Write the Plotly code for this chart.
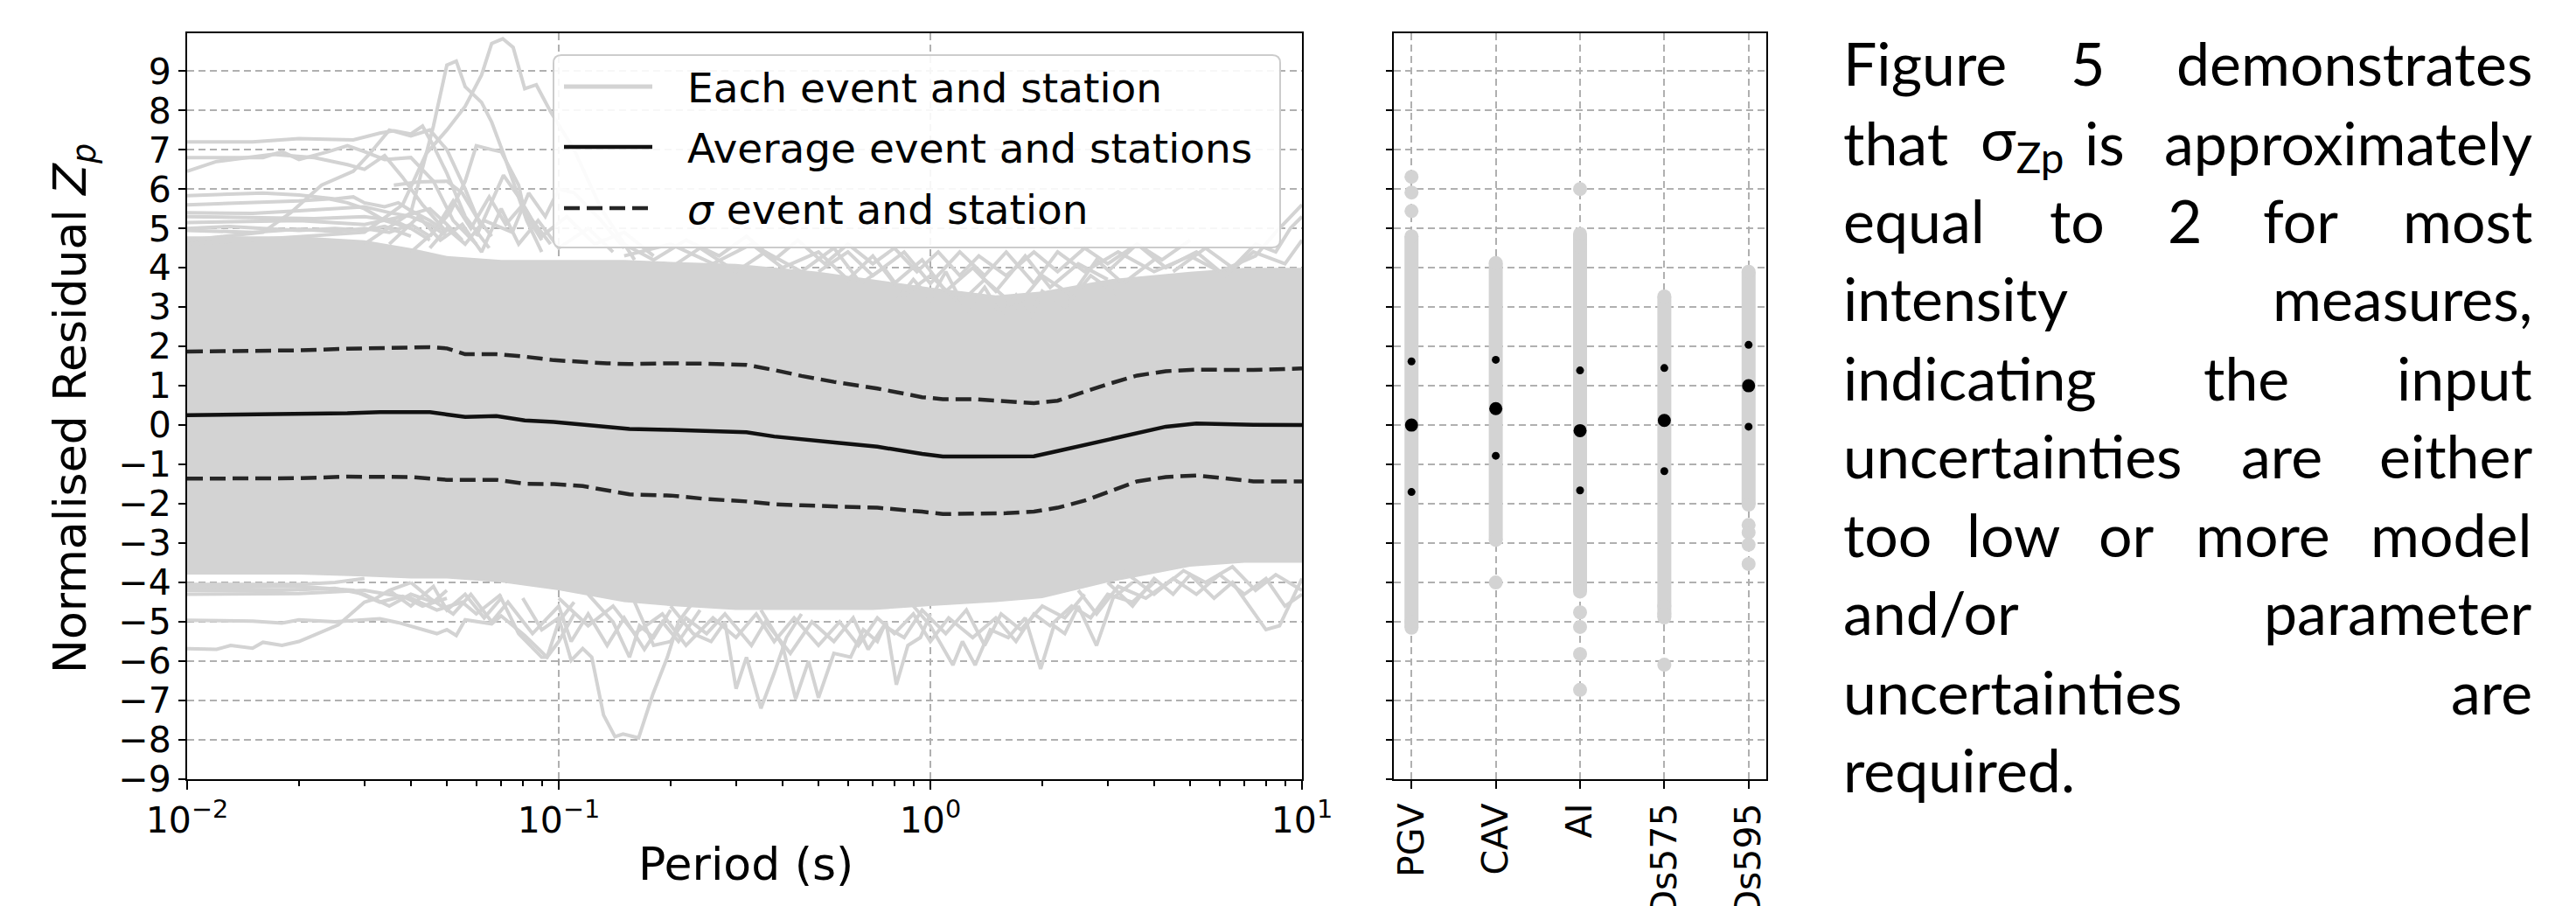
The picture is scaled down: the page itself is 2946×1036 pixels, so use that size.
import plotly.graph_objects as go

# ---------------- data ----------------
periods = [0.01, 0.015, 0.02, 0.027, 0.033, 0.04, 0.045, 0.05, 0.056, 0.068, 0.081, 0.097,
           0.116, 0.135, 0.155, 0.2, 0.25, 0.32, 0.38, 0.45, 0.55, 0.72, 0.95, 1.08, 1.3,
           1.6, 1.9, 2.2, 2.6, 3.0, 3.6, 4.3, 5.2, 6.2, 7.4, 10.0]
mean_z = [0.25, 0.27, 0.28, 0.30, 0.33, 0.33, 0.33, 0.27, 0.21, 0.23, 0.12, 0.08,
          0.01, -0.05, -0.10, -0.12, -0.15, -0.18, -0.29, -0.36, -0.43, -0.55, -0.73, -0.80, -0.80,
          -0.80, -0.79, -0.66, -0.50, -0.38, -0.20, -0.04, 0.04, 0.02, 0.01, 0.0]
sigma_upper = [1.87, 1.88, 1.90, 1.94, 1.95, 1.96, 1.98, 1.95, 1.80, 1.80, 1.74, 1.65,
               1.60, 1.57, 1.55, 1.57, 1.56, 1.53, 1.40, 1.25, 1.10, 0.93, 0.71, 0.66, 0.66,
               0.60, 0.56, 0.62, 0.85, 1.04, 1.26, 1.37, 1.41, 1.41, 1.40, 1.44]
sigma_lower = [-1.36, -1.36, -1.35, -1.31, -1.31, -1.32, -1.36, -1.39, -1.39, -1.39, -1.49, -1.50,
               -1.55, -1.65, -1.76, -1.79, -1.88, -1.94, -2.01, -2.04, -2.06, -2.10, -2.20, -2.26, -2.25,
               -2.24, -2.20, -2.10, -1.92, -1.70, -1.43, -1.32, -1.28, -1.35, -1.43, -1.43]

# dense band of the individual event/station curves (where they overlap solidly)
band_periods = [0.01, 0.02, 0.03, 0.04, 0.05, 0.07, 0.1, 0.15, 0.2, 0.3, 0.5, 0.7, 1.0, 1.5,
                2.0, 3.0, 5.0, 7.0, 10.0]
band_upper = [4.8, 4.8, 4.7, 4.5, 4.3, 4.2, 4.2, 4.2, 4.15, 4.1, 3.9, 3.7, 3.5, 3.3,
              3.4, 3.7, 3.9, 4.0, 4.0]
band_lower = [-3.8, -3.8, -3.85, -3.9, -3.9, -4.0, -4.2, -4.5, -4.6, -4.7, -4.7, -4.7, -4.6, -4.5,
              -4.4, -4.0, -3.6, -3.5, -3.5]

# individual curves that stand out of the band: (period, Zp) pairs
curve_peak = [(0.01, 4.6), (0.03, 4.9), (0.038, 5.6), (0.044, 6.9), (0.05, 7.5), (0.056, 8.1),
              (0.062, 8.9), (0.066, 9.7), (0.0707, 9.82), (0.0754, 9.6), (0.081, 8.55),
              (0.087, 8.65), (0.095, 7.97), (0.11, 7.0), (0.13, 5.5), (0.16, 4.2)]
curve_peak2 = [(0.03, 4.6), (0.04, 5.4), (0.046, 7.6), (0.05, 9.15), (0.053, 9.25), (0.056, 8.6),
               (0.062, 8.2), (0.066, 7.7), (0.071, 6.9), (0.078, 5.8), (0.082, 5.2), (0.09, 4.4)]
curve_h1 = [(0.01, 7.2), (0.015, 7.2), (0.02, 7.28), (0.028, 7.25), (0.033, 7.42), (0.036, 7.48),
            (0.04, 7.4), (0.043, 7.6), (0.046, 7.1), (0.05, 6.4), (0.056, 5.3), (0.065, 4.5)]
curve_h2 = [(0.01, 6.8), (0.016, 6.8), (0.018, 6.95), (0.02, 6.75), (0.024, 6.95), (0.027, 7.1),
            (0.03, 6.95), (0.034, 6.75), (0.04, 6.8), (0.046, 6.2), (0.052, 5.2), (0.06, 4.6)]
curve_h3 = [(0.01, 6.45), (0.012, 6.7), (0.017, 6.88), (0.022, 6.8), (0.027, 6.62), (0.03, 6.5),
            (0.034, 6.85), (0.038, 6.3), (0.043, 5.6), (0.05, 4.9)]
curve_r1 = [(0.01, 4.7), (0.016, 4.9), (0.019, 5.4), (0.023, 6.1), (0.028, 6.45), (0.031, 6.9),
            (0.035, 7.5), (0.04, 7.35), (0.045, 7.5), (0.05, 7.0), (0.056, 6.0), (0.062, 5.0)]
curve_h4 = [(0.01, 5.83), (0.013, 5.88), (0.016, 5.9), (0.02, 5.85), (0.025, 5.75), (0.028, 5.8),
            (0.03, 5.65), (0.034, 5.55), (0.037, 5.65), (0.04, 5.45), (0.045, 5.2), (0.05, 4.9)]
curve_h5 = [(0.01, 5.4), (0.015, 5.38), (0.02, 5.45), (0.025, 5.5), (0.03, 5.55), (0.035, 5.4),
            (0.04, 5.3), (0.045, 5.1), (0.05, 4.8)]
curve_h6 = [(0.01, 5.3), (0.016, 5.28), (0.022, 5.25), (0.03, 5.3), (0.036, 5.2), (0.04, 5.0),
            (0.045, 4.7)]
curve_h7 = [(0.01, 5.0), (0.013, 5.05), (0.016, 5.0), (0.02, 4.95), (0.025, 5.0), (0.03, 4.95),
            (0.034, 5.05), (0.04, 4.8)]
curve_h8 = [(0.01, 5.6), (0.015, 5.65), (0.02, 5.7), (0.024, 5.75), (0.027, 5.65), (0.03, 5.5),
            (0.034, 5.2), (0.04, 5.0)]
curve_h9 = [(0.01, 4.95), (0.015, 4.9), (0.02, 4.98), (0.025, 4.92), (0.03, 5.0), (0.035, 4.9),
            (0.04, 5.1), (0.045, 4.8)]
curve_h10 = [(0.01, 5.15), (0.02, 5.2), (0.03, 5.1), (0.038, 5.3), (0.045, 5.5), (0.05, 5.1),
             (0.055, 4.7)]
curve_m1 = [(0.036, 6.1), (0.042, 6.18), (0.05, 6.2), (0.055, 5.9), (0.06, 5.3), (0.066, 4.8)]
curve_m2 = [(0.045, 4.8), (0.051, 5.4), (0.056, 6.2), (0.06, 7.1), (0.066, 7.0), (0.07, 6.95),
            (0.078, 6.1), (0.081, 5.4), (0.09, 4.7)]
curve_m3 = [(0.06, 4.8), (0.068, 5.98), (0.071, 6.35), (0.078, 5.8), (0.085, 5.2), (0.095, 4.6)]
curve_u1 = [(0.035, 4.6), (0.042, 5.3), (0.048, 4.7), (0.055, 5.1), (0.062, 4.4), (0.07, 5.5),
            (0.078, 4.6), (0.088, 5.2), (0.1, 4.5), (0.12, 5.0), (0.14, 4.4)]
curve_u2 = [(0.04, 4.4), (0.046, 4.9), (0.052, 5.7), (0.058, 5.0), (0.065, 5.8), (0.072, 5.1),
            (0.08, 5.6), (0.09, 4.8), (0.105, 5.3), (0.125, 4.6), (0.15, 4.9), (0.18, 4.3)]
curve_u3 = [(0.045, 4.5), (0.05, 5.0), (0.056, 4.6), (0.063, 5.2), (0.075, 4.9), (0.083, 5.9),
            (0.092, 5.3), (0.1, 6.0), (0.11, 5.9), (0.13, 5.2), (0.15, 4.5)]
curve_u5 = [(0.15, 4.3), (0.2, 4.6), (0.26, 4.1), (0.33, 4.6), (0.4, 4.0), (0.5, 4.4), (0.6, 3.7),
            (0.7, 4.3), (0.8, 3.6), (0.95, 4.2), (1.1, 3.4), (1.3, 4.0), (1.5, 3.4), (1.8, 4.3),
            (2.1, 3.5), (2.5, 4.1), (3.0, 3.7)]
curve_u6 = [(0.2, 4.0), (0.24, 4.5), (0.3, 3.9), (0.36, 4.4), (0.45, 3.9), (0.55, 4.5), (0.65, 3.6),
            (0.75, 4.0), (0.85, 3.3), (1.0, 3.8), (1.2, 3.1), (1.4, 3.7), (1.7, 3.0), (2.0, 3.8),
            (2.4, 3.3), (2.8, 4.2), (3.3, 3.6), (4.0, 4.2)]
curve_u7 = [(0.5, 3.9), (0.6, 4.4), (0.7, 3.8), (0.85, 4.4), (1.0, 3.6), (1.2, 4.4), (1.4, 3.8),
            (1.6, 4.4), (1.9, 3.6), (2.2, 4.4), (2.6, 3.9), (3.2, 4.4), (4.0, 3.9), (5.0, 4.3),
            (6.0, 3.9), (7.5, 4.3), (8.5, 4.9), (10.0, 5.6)]
curve_u8 = [(4.5, 3.9), (5.5, 4.5), (6.5, 4.0), (7.5, 4.6), (8.5, 4.4), (9.3, 5.0), (10.0, 5.3)]
curve_u9 = [(3.0, 3.9), (3.6, 4.6), (4.3, 4.0), (5.2, 4.4), (6.2, 3.8), (7.4, 4.4), (9.0, 4.1),
            (10.0, 4.7)]
curve_u10 = [(0.8, 3.1), (0.9, 3.7), (1.0, 3.2), (1.1, 3.9), (1.25, 2.9), (1.4, 3.5), (1.55, 2.8),
             (1.7, 3.3), (1.85, 2.7), (2.0, 3.4), (2.3, 3.0), (2.7, 3.8), (3.2, 3.3)]
curve_u11 = [(0.15, 4.6), (0.18, 4.2), (0.22, 4.7), (0.27, 4.3), (0.32, 4.8), (0.38, 4.2),
             (0.44, 4.7), (0.52, 4.1), (0.6, 4.6), (0.7, 4.1), (0.8, 4.5), (0.92, 3.9), (1.05, 4.4),
             (1.2, 3.8), (1.35, 4.3), (1.6, 3.8), (1.9, 4.4), (2.2, 3.9), (2.6, 4.5), (3.0, 4.1),
             (3.6, 4.6), (4.2, 4.2), (5.0, 4.7)]
curve_l1 = [(0.01, -4.96), (0.015, -4.98), (0.018, -5.03), (0.02, -4.95), (0.025, -5.0),
            (0.033, -4.92), (0.037, -5.02), (0.047, -5.3), (0.05, -5.2), (0.053, -5.35),
            (0.056, -4.95), (0.066, -5.05), (0.07, -4.85), (0.081, -5.35), (0.093, -5.9),
            (0.1, -5.5), (0.11, -4.8)]
curve_l2 = [(0.01, -5.68), (0.012, -5.7), (0.0131, -5.6), (0.015, -5.67), (0.016, -5.52),
            (0.018, -5.6), (0.02, -5.5), (0.0255, -5.08), (0.03, -4.5), (0.032, -4.42),
            (0.035, -4.2), (0.04, -4.0)]
curve_l3 = [(0.08, -4.4), (0.09, -5.2), (0.1, -4.9), (0.108, -5.98), (0.116, -5.68),
            (0.1227, -5.9), (0.132, -7.37), (0.1417, -7.92), (0.149, -7.85), (0.155, -7.9),
            (0.164, -7.95), (0.179, -6.85), (0.196, -5.9), (0.21, -5.0), (0.23, -4.5)]
curve_l5 = [(0.01, -4.05), (0.02, -4.05), (0.025, -4.0), (0.03, -3.9)]
curve_l6 = [(0.01, -4.2), (0.018, -4.2), (0.025, -4.15), (0.03, -4.3), (0.035, -4.6), (0.04, -4.3),
            (0.046, -4.5), (0.05, -4.2)]
curve_l7 = [(0.01, -4.12), (0.02, -4.1), (0.028, -4.2), (0.033, -4.5), (0.038, -4.35),
            (0.043, -4.6), (0.05, -4.4)]
curve_l8 = [(0.01, -4.3), (0.02, -4.28), (0.03, -4.2), (0.04, -4.4), (0.047, -4.7), (0.055, -4.5),
            (0.06, -4.8), (0.07, -4.3)]
curve_d1 = [(0.035, -4.2), (0.04, -4.6), (0.046, -4.1), (0.05, -4.7), (0.056, -4.3), (0.063, -4.9),
            (0.07, -4.4), (0.078, -5.3), (0.09, -5.9), (0.093, -5.9), (0.1, -5.0), (0.11, -4.5)]
curve_d2 = [(0.04, -4.0), (0.045, -4.4), (0.052, -4.8), (0.058, -4.3), (0.066, -5.0), (0.073, -4.5),
            (0.085, -5.3), (0.1, -4.6), (0.108, -5.5), (0.12, -4.8), (0.135, -5.6), (0.15, -4.9),
            (0.17, -5.7), (0.19, -5.0), (0.21, -5.5), (0.24, -4.7)]
curve_d3 = [(0.2, -4.6), (0.23, -5.3), (0.257, -5.5), (0.28, -5.0), (0.3, -6.7), (0.32, -5.9),
            (0.35, -7.2), (0.38, -6.3), (0.41, -5.4), (0.45, -4.8)]
curve_d4 = [(0.35, -4.7), (0.4, -5.6), (0.434, -6.96), (0.47, -6.0), (0.5, -6.93), (0.55, -5.8),
            (0.61, -5.9), (0.66, -5.2), (0.72, -5.5), (0.76, -5.0), (0.81, -6.6), (0.87, -5.6),
            (0.94, -5.4), (1.0, -4.8)]
curve_d5 = [(0.9, -4.6), (1.0, -5.1), (1.15, -6.1), (1.22, -5.5), (1.32, -6.1), (1.45, -5.2),
            (1.62, -5.4), (1.8, -4.9), (1.98, -6.2), (2.15, -5.1), (2.3, -5.3), (2.5, -4.6),
            (2.8, -5.6), (3.1, -4.4), (3.5, -4.0)]
curve_d6 = [(0.16, -4.5), (0.18, -5.6), (0.2, -5.5), (0.22, -4.9), (0.25, -5.3), (0.28, -4.8),
            (0.33, -5.6), (0.36, -5.0), (0.42, -5.8), (0.48, -5.0), (0.55, -5.5), (0.62, -4.9),
            (0.68, -5.7), (0.75, -5.1), (0.85, -5.4), (0.95, -4.7), (1.1, -5.3), (1.25, -4.7),
            (1.4, -5.6), (1.55, -4.8), (1.75, -5.2), (2.0, -4.6), (2.3, -4.9), (2.6, -4.3)]
curve_d7 = [(3.0, -4.0), (3.5, -4.6), (4.0, -3.9), (4.5, -4.3), (5.0, -3.8), (5.8, -4.4),
            (6.5, -4.0), (7.2, -4.6), (8.0, -5.2), (8.7, -5.1), (9.3, -4.5), (10.0, -3.9)]
curve_d8 = [(3.3, -3.7), (4.0, -4.3), (4.8, -3.7), (5.5, -4.0), (6.5, -3.6), (7.5, -4.2),
            (8.5, -3.8), (10.0, -4.2)]
curve_d9 = [(0.12, -4.3), (0.14, -5.0), (0.155, -5.9), (0.165, -5.1), (0.18, -5.4), (0.2, -4.7)]
curve_d10 = [(0.1, -4.4), (0.12, -5.1), (0.14, -4.6), (0.16, -5.3), (0.19, -4.8), (0.22, -5.6),
             (0.26, -4.9), (0.3, -5.4), (0.34, -4.8), (0.38, -5.5), (0.43, -4.9), (0.5, -5.6),
             (0.57, -5.0), (0.64, -5.6), (0.72, -4.9), (0.8, -5.3), (0.9, -4.8), (1.0, -5.5),
             (1.12, -4.9), (1.3, -5.4), (1.5, -4.9), (1.7, -5.5), (1.9, -4.8), (2.1, -5.1),
             (2.4, -4.6), (2.7, -4.9), (3.0, -4.3), (3.5, -4.5), (4.0, -4.0)]
curve_d11 = [(2.5, -4.2), (2.8, -4.8), (3.2, -4.1), (3.8, -4.4), (4.5, -3.9), (5.2, -4.3),
             (6.0, -3.8), (7.0, -4.3), (8.0, -3.9), (9.0, -4.6), (10.0, -4.3)]

# intensity measures (right panel)
im_names = ["PGV", "CAV", "AI", "Ds575", "Ds595"]
im_mean = [0.0, 0.42, -0.14, 0.12, 1.0]
im_sigma_upper = [1.62, 1.66, 1.39, 1.45, 2.04]
im_sigma_lower = [-1.70, -0.78, -1.66, -1.17, -0.04]
im_dense_high = [4.8, 4.12, 4.86, 3.27, 3.9]
im_dense_low = [-5.15, -2.92, -4.23, -4.89, -2.02]
im_outliers_pgv = [6.31, 5.91, 5.44, -5.0]
im_outliers_cav = [-4.0]
im_outliers_ai = [6.0, 4.55, -4.76, -5.13, -5.82, -6.73]
im_outliers_ds575 = [-4.6, -4.8, -6.09]
im_outliers_ds595 = [-2.54, -2.73, -3.04, -3.53]

y_ticks = list(range(-9, 10))
x_major = [0.01, 0.1, 1, 10]
x_major_text = ["10<sup>\u22122</sup>", "10<sup>\u22121</sup>", "10<sup>0</sup>", "10<sup>1</sup>"]
x_minor = [0.02, 0.03, 0.04, 0.05, 0.06, 0.07, 0.08, 0.09,
           0.2, 0.3, 0.4, 0.5, 0.6, 0.7, 0.8, 0.9,
           2, 3, 4, 5, 6, 7, 8, 9]

legend_labels = ["Each event and station", "Average event and stations", "<i>\u03c3</i> event and station"]

paragraph = [
    [("Figure", "left", 2106), ("5", "center", 2387), ("demonstrates", "right", 2898)],
    [("that", "left", 2106), ("\u03c3<sub>Zp</sub>", "left", 2263), ("is", "center", 2407),
     ("approximately", "right", 2898)],
    [("equal", "left", 2106), ("to", "center", 2375), ("2", "center", 2498), ("for", "center", 2631),
     ("most", "right", 2898)],
    [("intensity", "left", 2106), ("measures,", "right", 2898)],
    [("indicating", "left", 2106), ("the", "center", 2569), ("input", "right", 2898)],
    [("uncertainties", "left", 2106), ("are", "center", 2609), ("either", "right", 2898)],
    [("too", "left", 2106), ("low", "center", 2303), ("or", "center", 2432), ("more", "center", 2588),
     ("model", "right", 2898)],
    [("and/or", "left", 2106), ("parameter", "right", 2898)],
    [("uncertainties", "left", 2106), ("are", "right", 2898)],
    [("required.", "left", 2106)],
]
paragraph_baselines = [93, 183, 272, 362, 452, 541, 631, 720, 811, 900]

# ---------------- figure ----------------
W, H = 2946, 1036
FONT = "DejaVu Sans"
GREY = "#d3d3d3"
GRID = "#b0b0b0"


def px(x):
    return x / W


def py(y):
    return 1 - y / H


individual_curves = [curve_l5, curve_l6, curve_l7, curve_l8, curve_d1, curve_d2, curve_d3, curve_d4,
                     curve_d5, curve_d6, curve_d7, curve_d8, curve_d9, curve_d10, curve_d11,
                     curve_l1, curve_l2, curve_l3,
                     curve_u1, curve_u2, curve_u3, curve_u5, curve_u6, curve_u7, curve_u8, curve_u9,
                     curve_u10, curve_u11, curve_h4, curve_h5, curve_h6, curve_h7, curve_h8, curve_h9,
                     curve_h10, curve_m1, curve_m2, curve_m3, curve_h1, curve_h2, curve_h3, curve_r1,
                     curve_peak2, curve_peak]

fig = go.Figure()

fig.add_trace(go.Scatter(
    x=band_periods + band_periods[::-1], y=band_upper + band_lower[::-1],
    fill="toself", fillcolor=GREY, mode="lines", line=dict(width=0, color=GREY),
    showlegend=False, hoverinfo="skip", xaxis="x", yaxis="y"))

for c in individual_curves:
    fig.add_trace(go.Scatter(
        x=[p[0] for p in c], y=[p[1] for p in c], mode="lines",
        line=dict(color=GREY, width=4), showlegend=False, hoverinfo="skip",
        xaxis="x", yaxis="y"))

for s in (sigma_upper, sigma_lower):
    fig.add_trace(go.Scatter(
        x=periods, y=s, mode="lines", line=dict(color="#262626", width=4.5, dash="18px,8px"),
        showlegend=False, xaxis="x", yaxis="y"))

fig.add_trace(go.Scatter(
    x=periods, y=mean_z, mode="lines", line=dict(color="#111111", width=4.5),
    showlegend=False, xaxis="x", yaxis="y"))

# right panel
im_x = list(range(len(im_names)))
bar_x, bar_y = [], []
for i in im_x:
    bar_x += [i, i, None]
    bar_y += [im_dense_low[i], im_dense_high[i], None]
fig.add_trace(go.Scatter(x=bar_x, y=bar_y, mode="lines", line=dict(color=GREY, width=16),
                         showlegend=False, xaxis="x2", yaxis="y2"))
outlier_sets = [im_outliers_pgv, im_outliers_cav, im_outliers_ai, im_outliers_ds575, im_outliers_ds595]
pt_x, pt_y = [], []
for i in im_x:
    vals = [im_dense_low[i], im_dense_high[i]] + outlier_sets[i]
    pt_x += [i] * len(vals)
    pt_y += vals
fig.add_trace(go.Scatter(x=pt_x, y=pt_y, mode="markers",
                         marker=dict(color=GREY, size=16, line=dict(width=0)),
                         showlegend=False, xaxis="x2", yaxis="y2"))
fig.add_trace(go.Scatter(x=im_x + im_x, y=im_sigma_upper + im_sigma_lower, mode="markers",
                         marker=dict(color="black", size=9, line=dict(width=0)),
                         showlegend=False, xaxis="x2", yaxis="y2"))
fig.add_trace(go.Scatter(x=im_x, y=im_mean, mode="markers",
                         marker=dict(color="black", size=15, line=dict(width=0)),
                         showlegend=False, xaxis="x2", yaxis="y2"))

y_dom = [py(891), py(38)]
axis_common = dict(showline=True, mirror=True, linecolor="black", linewidth=2,
                   ticks="outside", tickcolor="black", tickwidth=2, automargin=False,
                   tickfont=dict(family=FONT, size=41, color="black"),
                   showgrid=True, gridcolor=GRID, gridwidth=1.5, griddash="8px,5px",
                   zeroline=False)

fig.update_layout(
    width=W, height=H, margin=dict(l=0, r=0, t=0, b=0, autoexpand=False),
    paper_bgcolor="white", plot_bgcolor="white", showlegend=False,
    font=dict(family=FONT, color="black"),
    xaxis=dict(type="log", range=[-2, 1], domain=[px(214), px(1489)], anchor="y",
               tickmode="array", tickvals=x_major, ticktext=x_major_text, ticklen=10,
               minor=dict(tickmode="array", tickvals=x_minor, ticks="outside", ticklen=6,
                          tickwidth=1.5, tickcolor="black", showgrid=False),
               **axis_common),
    yaxis=dict(range=[-9, 9.96], domain=y_dom, anchor="x", tickmode="array",
               tickvals=y_ticks, ticklen=8, **axis_common),
    xaxis2=dict(range=[-0.21, 4.21], domain=[px(1594), px(2020)], anchor="y2",
                tickmode="array", tickvals=im_x, ticktext=im_names, tickangle=-90, ticklen=9,
                **axis_common),
    yaxis2=dict(range=[-9, 9.96], domain=y_dom, anchor="x2", tickmode="array",
                tickvals=y_ticks, ticklen=7, showticklabels=False, **axis_common),
)

annotations = [
    dict(text="Normalised Residual <i>Z</i><sub><i>p</i></sub>", textangle=-90,
         x=px(84), y=py(467), xref="paper", yref="paper", xanchor="center", yanchor="middle",
         showarrow=False, font=dict(family=FONT, size=52, color="black")),
    dict(text="Period (s)", x=px(853), y=py(988), xref="paper", yref="paper",
         xanchor="center", yanchor="middle", showarrow=False,
         font=dict(family=FONT, size=52, color="black")),
]

# legend (drawn by hand to match the matplotlib legend box)
lx0, ly0, lx1, ly1, r = 633, 63, 1464, 283, 9
path = (f"M {px(lx0 + r)},{py(ly0)} L {px(lx1 - r)},{py(ly0)} Q {px(lx1)},{py(ly0)} {px(lx1)},{py(ly0 + r)} "
        f"L {px(lx1)},{py(ly1 - r)} Q {px(lx1)},{py(ly1)} {px(lx1 - r)},{py(ly1)} "
        f"L {px(lx0 + r)},{py(ly1)} Q {px(lx0)},{py(ly1)} {px(lx0)},{py(ly1 - r)} "
        f"L {px(lx0)},{py(ly0 + r)} Q {px(lx0)},{py(ly0)} {px(lx0 + r)},{py(ly0)} Z")
shapes = [dict(type="path", path=path, xref="paper", yref="paper",
               fillcolor="rgba(255,255,255,0.9)", line=dict(color="#cccccc", width=2), layer="above")]
row_y = [99, 168, 238]
row_style = [dict(color=GREY, width=5), dict(color="#111111", width=4.5),
             dict(color="#262626", width=4.5, dash="18px,8px")]
for yy, st, lab in zip(row_y, row_style, legend_labels):
    shapes.append(dict(type="line", xref="paper", yref="paper", x0=px(645), x1=px(746),
                       y0=py(yy), y1=py(yy), line=st, layer="above"))
    annotations.append(dict(text=lab, x=px(784), y=py(yy + 1), xref="paper", yref="paper",
                            xanchor="left", yanchor="middle", showarrow=False,
                            font=dict(family=FONT, size=47, color="black")))

# paragraph on the right (justified by word placement)
for words, base in zip(paragraph, paragraph_baselines):
    for w, anchor, xpos in words:
        annotations.append(dict(text=w, x=px(xpos), y=py(base - 21), xref="paper", yref="paper",
                                xanchor=anchor, yanchor="middle", showarrow=False,
                                font=dict(family="Lato", size=68, color="black")))

fig.update_layout(shapes=shapes, annotations=annotations)
fig.write_html("out.html")
